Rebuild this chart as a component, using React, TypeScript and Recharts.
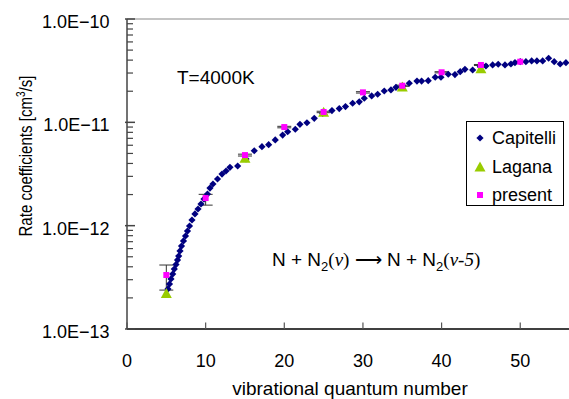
import React from 'react';
import { ScatterChart, Scatter, XAxis, YAxis, ErrorBar, ReferenceLine, Legend } from 'recharts';

// Capitelli curve
const capitelliV = [
  5.21, 5.4, 5.59, 5.81, 6.01, 6.23, 6.42, 6.57, 6.74, 6.93,
  7.18, 7.44, 7.69, 7.95, 8.26, 8.64, 9.03, 9.41, 9.79, 10.23,
  10.55, 10.93, 11.51, 12.08, 12.59, 13.09, 14.07, 15.13, 16.18, 17.16,
  18.01, 18.85, 19.79, 20.43, 21.4, 21.99, 22.88, 23.81, 24.88, 26.06,
  26.99, 27.78, 28.69, 29.53, 30.17, 31.11, 31.87, 32.71, 33.56, 34.2,
  35.05, 35.89, 36.87, 37.46, 38.3, 39.19, 39.92, 40.85, 41.7, 42.37,
  42.97, 43.95, 44.92, 45.64, 46.49, 47.2, 48.06, 48.82, 49.33, 50.0,
  50.72, 51.45, 52.12, 52.85, 53.61, 54.32, 55.08, 55.81,
];
const capitelliK = [
  2.44e-13, 2.72e-13, 3.05e-13, 3.4e-13, 3.8e-13, 4.2e-13, 4.65e-13, 5.08e-13, 5.69e-13, 6.35e-13,
  7.11e-13, 7.94e-13, 8.87e-13, 9.93e-13, 1.135e-12, 1.3e-12, 1.45e-12, 1.62e-12, 1.81e-12, 2.02e-12,
  2.31e-12, 2.53e-12, 2.83e-12, 3.16e-12, 3.38e-12, 3.67e-12, 3.78e-12, 4.42e-12, 5.31e-12, 5.81e-12,
  6.08e-12, 6.75e-12, 7.53e-12, 8.11e-12, 8.57e-12, 9.57e-12, 9.91e-12, 1.094e-11, 1.22e-11, 1.3e-11,
  1.36e-11, 1.42e-11, 1.53e-11, 1.58e-11, 1.71e-11, 1.8e-11, 1.87e-11, 2.01e-11, 2.06e-11, 2.18e-11,
  2.26e-11, 2.39e-11, 2.51e-11, 2.51e-11, 2.53e-11, 2.73e-11, 2.73e-11, 2.92e-11, 2.9e-11, 3.09e-11,
  3.26e-11, 3.21e-11, 3.45e-11, 3.51e-11, 3.59e-11, 3.65e-11, 3.59e-11, 3.67e-11, 3.78e-11, 3.86e-11,
  3.86e-11, 3.93e-11, 3.93e-11, 3.93e-11, 4.17e-11, 3.86e-11, 3.67e-11, 3.78e-11,
];

const laganaV = [5, 15, 25, 35, 45];
const laganaK = [2.21e-13, 4.49e-12, 1.25e-11, 2.2e-11, 3.3e-11];

const presentV = [5, 10, 15, 20, 25, 30, 35, 40, 45, 50];
const presentK = [3.33e-13, 1.85e-12, 4.82e-12, 9.0e-12, 1.26e-11, 1.95e-11, 2.26e-11, 3.05e-11, 3.59e-11, 3.86e-11];
const presentErrLow = [0.95e-13, 0.27e-12, 0.1e-12, 0.15e-12, 0.02e-11, 0.03e-11, 0.03e-11, 0.04e-11, 0.04e-11, 0.04e-11];
const presentErrHigh = [0.83e-13, 0.16e-12, 0.1e-12, 0.15e-12, 0.02e-11, 0.03e-11, 0.03e-11, 0.04e-11, 0.04e-11, 0.04e-11];

const xTicks = [0, 10, 20, 30, 40, 50];
const yMajorTicks = [1e-13, 1e-12, 1e-11, 1e-10];
const yTickLabels = ['1.0E\u221213', '1.0E\u221212', '1.0E\u221211', '1.0E\u221210'];
const minorSteps = [2, 3, 4, 5, 6, 7, 8, 9];
const yTicks = [...yMajorTicks, ...yMajorTicks.slice(0, 3).flatMap((d) => minorSteps.map((m) => m * d))];

const FONT = '"Liberation Sans", Arial, sans-serif';
const SERIF = '"Liberation Serif", "Times New Roman", serif';

const capitelli = capitelliV.map((v, i) => ({ v, k: capitelliK[i] }));
const lagana = laganaV.map((v, i) => ({ v, k: laganaK[i] }));
const present = presentV.map((v, i) => ({ v, k: presentK[i], err: [presentErrLow[i], presentErrHigh[i]] }));

const Diamond = (p: any) => (
  <path d={`M${p.cx},${p.cy - 3.6}L${p.cx + 3.6},${p.cy}L${p.cx},${p.cy + 3.6}L${p.cx - 3.6},${p.cy}Z`} fill="#000080" />
);
const Triangle = (p: any) => (
  <path d={`M${p.cx},${p.cy - 5.5}L${p.cx + 5.5},${p.cy + 4.5}L${p.cx - 5.5},${p.cy + 4.5}Z`} fill="#99cc00" />
);
const Square = (p: any) => <rect x={p.cx - 3} y={p.cy - 3} width={6} height={6} fill="#ff00ff" />;

const YTick = (props: any) => {
  const { x, y, payload } = props;
  const idx = yMajorTicks.indexOf(payload.value);
  if (idx < 0) return <line x1={x} x2={x + 6} y1={y} y2={y} stroke="#444" strokeWidth={1.2} />;
  return (
    <g>
      <line x1={x - 2} x2={x + 8} y1={y} y2={y} stroke="#444" strokeWidth={1.5} />
      <text x={x - 17.5} y={y + 9} textAnchor="end" fontSize={18} fontFamily={FONT} fill="#000">
        {yTickLabels[idx]}
      </text>
    </g>
  );
};

const XTick = (props: any) => {
  const { x, y, payload } = props;
  return (
    <g>
      <line x1={x} x2={x} y1={y - 6.5} y2={y} stroke="#555" strokeWidth={1.2} />
      <text x={x} y={y + 37.5} textAnchor="middle" fontSize={18} fontFamily={FONT} fill="#000">
        {payload.value}
      </text>
    </g>
  );
};

const legendItems = [
  { name: 'Capitelli', top: 6, marker: <path d="M6,2.4L9.6,6L6,9.6L2.4,6Z" fill="#000080" /> },
  { name: 'Lagana', top: 35, marker: <path d="M6,0.5L11.5,10.5L0.5,10.5Z" fill="#99cc00" /> },
  { name: 'present', top: 63, marker: <rect x={3} y={3} width={6} height={6} fill="#ff00ff" /> },
];

const LegendBox = () => (
  <div
    style={{
      width: 98,
      height: 85,
      border: '1px solid #000',
      boxSizing: 'border-box',
      background: '#fff',
      position: 'relative',
      fontFamily: FONT,
      fontSize: 18,
      color: '#000',
    }}
  >
    {legendItems.map((it) => (
      <div key={it.name} style={{ position: 'absolute', left: 0, top: it.top, height: 20, width: '100%' }}>
        <svg style={{ position: 'absolute', left: 7, top: 4 }} width={12} height={12}>
          {it.marker}
        </svg>
        <span style={{ position: 'absolute', left: 25, top: 0, lineHeight: '20px', whiteSpace: 'nowrap' }}>{it.name}</span>
      </div>
    ))}
  </div>
);

export default function App() {
  return (
    <div style={{ position: 'absolute', left: 0, top: 0, width: 569, height: 399, overflow: 'hidden', background: '#fff' }}>
      <ScatterChart width={569} height={399} margin={{ top: 19, right: 0, bottom: 0, left: 0 }} style={{ fontFamily: FONT }}>
        <XAxis
          type="number"
          dataKey="v"
          domain={[0, 56.2]}
          ticks={xTicks}
          interval={0}
          allowDataOverflow
          height={70}
          tick={XTick}
          tickLine={false}
          tickSize={0}
          tickMargin={0}
          axisLine={{ stroke: '#000', strokeWidth: 1.5 }}
        />
        <YAxis
          type="number"
          dataKey="k"
          scale="log"
          domain={[1e-13, 1e-10]}
          ticks={yTicks}
          interval={0}
          allowDataOverflow
          width={127}
          tick={YTick}
          tickLine={false}
          tickSize={0}
          tickMargin={0}
          axisLine={{ stroke: '#444', strokeWidth: 1.5 }}
        />
        <ReferenceLine y={1e-10} stroke="#b0b0b0" strokeWidth={1.5} />
        <Scatter name="Capitelli" data={capitelli} shape={Diamond} isAnimationActive={false} />
        <Scatter name="Lagana" data={lagana} shape={Triangle} isAnimationActive={false} />
        <Scatter name="present" data={present} shape={Square} isAnimationActive={false}>
          <ErrorBar dataKey="err" direction="y" width={7} stroke="#333" strokeWidth={1} />
        </Scatter>
        <Legend
          layout="vertical"
          align="center"
          verticalAlign="middle"
          content={LegendBox}
          wrapperStyle={{ left: 466, top: 121, width: 98, height: 85 }}
        />
      </ScatterChart>
      <svg width={569} height={399} style={{ position: 'absolute', left: 0, top: 0, pointerEvents: 'none' }}>
        <text x={177} y={84} fontSize={19} fontFamily={FONT} fill="#000">
          T=4000K
        </text>
        <text x={272} y={266} fontSize={19} fontFamily={FONT} fill="#000">
          <tspan>N + N</tspan>
          <tspan dy={5} fontSize={13}>2</tspan>
          <tspan dy={-5} fontFamily={SERIF}>(</tspan>
          <tspan fontFamily={SERIF} fontStyle="italic">{'\u03bd'}</tspan>
          <tspan fontFamily={SERIF}>)</tspan>
          <tspan>{' \u27f6 N + N'}</tspan>
          <tspan dy={5} fontSize={13}>2</tspan>
          <tspan dy={-5} fontFamily={SERIF}>(</tspan>
          <tspan fontFamily={SERIF} fontStyle="italic">{'\u03bd-5'}</tspan>
          <tspan fontFamily={SERIF}>)</tspan>
        </text>
        <text
          transform="translate(31.5,156) rotate(-90)"
          textAnchor="middle"
          fontSize={18}
          fontFamily={FONT}
          fill="#000"
          textLength={161}
          lengthAdjust="spacingAndGlyphs"
        >
          <tspan>Rate coefficients [cm</tspan>
          <tspan dy={-7} fontSize={12}>3</tspan>
          <tspan dy={7}>/s]</tspan>
        </text>
        <text x={350} y={394.5} textAnchor="middle" fontSize={19} fontFamily={FONT} fill="#000">
          vibrational quantum number
        </text>
      </svg>
    </div>
  );
}
